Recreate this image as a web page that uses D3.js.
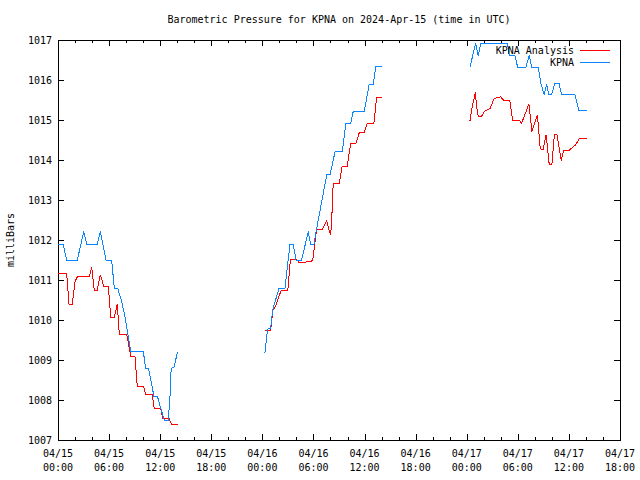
<!DOCTYPE html>
<html><head><meta charset="utf-8">
<script src="https://cdn.jsdelivr.net/npm/d3@7"></script>
<style>body{margin:0;background:#fff}svg{display:block}</style>
</head><body>
<script>
// ---- data (hours since 2024-04-15 00:00 UTC; null value = gap) ----
const startTime = Date.UTC(2024, 3, 15, 0, 0);
const spanHours = 66;
const yTicks = [1007,1008,1009,1010,1011,1012,1013,1014,1015,1016,1017];
const seriesNames = ["KPNA Analysis", "KPNA"];
const seriesColors = ["#ff0000", "#0a84ff"];

const analysisHours = [0,1.02,1.29,1.68,2.0,2.27,3.68,3.96,4.26,4.61,4.97,5.37,5.91,6.19,6.61,6.96,7.2,8.07,8.57,9.04,9.31,10.02,10.33,11.07,11.31,12.06,12.29,13.03,13.35,14.05,
  20,
  24.3,24.97,25.24,25.52,26.22,26.99,27.3,27.97,28.27,29.14,29.9,30.38,31.04,31.54,31.73,32.0,32.12,32.32,33.03,33.38,33.97,34.37,34.99,35.38,35.96,36.32,37.1,37.42,38.01,
  44,
  48.38,48.65,49.02,49.16,49.35,49.75,50.14,50.72,51.23,51.98,52.4,53.07,53.39,54.16,54.45,55.3,55.66,56.3,56.63,56.95,57.33,57.69,58.0,58.3,58.59,59.1,59.38,60.06,60.79,61.23,62.08];
const analysisValues = [1011.17,1011.17,1010.4,1010.4,1010.96,1011.08,1011.08,1011.32,1010.75,1010.75,1011.13,1010.85,1010.85,1010.06,1010.06,1010.39,1009.64,1009.64,1009.08,1009.08,1008.35,1008.35,1008.13,1008.13,1007.78,1007.78,1007.54,1007.54,1007.39,1007.39,
  null,
  1009.73,1009.73,1010.25,1010.33,1010.75,1010.75,1011.52,1011.52,1011.45,1011.45,1011.48,1012.27,1012.27,1012.48,1012.33,1012.13,1012.38,1013.42,1013.42,1013.85,1013.85,1014.42,1014.42,1014.68,1014.68,1014.92,1014.92,1015.57,1015.57,
  null,
  1014.98,1015.33,1015.69,1015.33,1015.1,1015.1,1015.23,1015.28,1015.54,1015.58,1015.48,1015.48,1015.0,1015.0,1014.92,1015.4,1014.71,1015.13,1014.29,1014.25,1014.63,1013.88,1013.88,1014.64,1014.64,1013.98,1014.25,1014.25,1014.38,1014.54,1014.54];

const kpnaHours = [0,0.59,1.02,2.27,3.02,3.37,4.61,4.97,5.64,6.3,6.61,7.0,7.43,7.87,8.25,8.54,10.02,10.3,10.63,11.27,11.68,12.06,12.5,12.95,13.15,13.29,13.66,14.03,
  20,
  24.3,24.58,24.7,24.97,25.21,25.95,26.65,27.24,27.63,27.95,28.61,29.39,29.67,30.06,30.38,31.56,31.95,32.54,33.38,33.81,34.37,34.67,35.96,36.55,37.02,37.33,38.01,
  44,
  48.38,49.05,49.35,49.67,52.78,52.99,53.66,53.98,54.95,55.34,55.62,56.4,56.71,57.1,57.38,57.65,57.97,58.36,58.83,59.14,60.7,61.17,62.08];
const kpnaValues = [1011.9,1011.9,1011.5,1011.5,1012.21,1011.9,1011.9,1012.21,1011.5,1011.5,1010.8,1010.8,1010.5,1010.08,1009.58,1009.21,1009.21,1008.79,1008.79,1008.09,1008.09,1007.79,1007.5,1007.5,1008.08,1008.79,1008.83,1009.21,
  null,
  1009.18,1009.73,1009.79,1009.79,1010.25,1010.79,1010.79,1011.89,1011.89,1011.5,1011.5,1012.21,1011.89,1011.89,1012.29,1013.63,1013.63,1014.21,1014.21,1014.92,1014.92,1015.21,1015.21,1015.9,1015.9,1016.33,1016.33,
  null,
  1016.32,1016.92,1016.61,1016.92,1016.92,1016.61,1016.61,1016.32,1016.32,1016.61,1016.32,1016.32,1015.92,1015.63,1015.9,1015.63,1015.63,1015.92,1015.92,1015.63,1015.63,1015.23,1015.23];

// ---- chart ----
const W = 640, H = 480;
const M = {left: 58, right: 620, top: 40, bottom: 440};
const FONT = "'DejaVu Sans Mono', 'Liberation Mono', monospace";
const FS = "10px";

const toDate = h => new Date(startTime + h * 3600e3);
const x = d3.scaleUtc().domain([toDate(0), toDate(spanHours)]).range([M.left, M.right]);
const y = d3.scaleLinear().domain([1007, 1017]).range([M.bottom, M.top]);

const svg = d3.select("body").append("svg").attr("width", W).attr("height", H)
  .style("font-family", FONT).style("font-size", FS);
svg.append("rect").attr("width", W).attr("height", H).attr("fill", "#fff");

const majorTicks = d3.utcHour.every(6).range(toDate(0), toDate(spanHours + 0.01));
const minorTicks = d3.utcHour.every(2).range(toDate(0), toDate(spanHours + 0.01))
  .filter(d => d.getUTCHours() % 6 !== 0);

function tickAxis(axisFn, scale, vals, size, tr) {
  const g = svg.append("g").attr("transform", tr)
    .call(axisFn(scale).tickValues(vals).tickSize(size).tickFormat(""));
  g.select(".domain").remove();
  g.selectAll("line").attr("stroke", "#000").attr("shape-rendering", "crispEdges");
  return g;
}
// bottom & top
tickAxis(d3.axisBottom, x, majorTicks, -6, `translate(0,${M.bottom})`);
tickAxis(d3.axisBottom, x, minorTicks, -3, `translate(0,${M.bottom})`);
tickAxis(d3.axisTop, x, majorTicks, -6, `translate(0,${M.top})`);
tickAxis(d3.axisTop, x, minorTicks, -3, `translate(0,${M.top})`);
// left & right
tickAxis(d3.axisLeft, y, yTicks, -6, `translate(${M.left},0)`);
tickAxis(d3.axisRight, y, yTicks, -6, `translate(${M.right},0)`);

// border
svg.append("rect").attr("x", M.left).attr("y", M.top)
  .attr("width", M.right - M.left).attr("height", M.bottom - M.top)
  .attr("fill", "none").attr("stroke", "#000").attr("shape-rendering", "crispEdges");

// y labels
svg.append("g").selectAll("text").data(yTicks).join("text")
  .attr("x", M.left - 6).attr("y", d => y(d) + 3.5)
  .attr("text-anchor", "end").text(d => d);

// x labels
const fmtD = d3.utcFormat("%m/%d"), fmtT = d3.utcFormat("%H:%M");
const xl = svg.append("g").selectAll("g").data(majorTicks).join("g");
xl.append("text").attr("x", d => x(d)).attr("y", 457).attr("text-anchor", "middle").text(fmtD);
xl.append("text").attr("x", d => x(d)).attr("y", 471).attr("text-anchor", "middle").text(fmtT);

// title & axis label
svg.append("text").attr("x", (M.left + M.right) / 2).attr("y", 23)
  .attr("text-anchor", "middle").text("Barometric Pressure for KPNA on 2024-Apr-15 (time in UTC)");
svg.append("text").attr("transform", "translate(14,240) rotate(-90)")
  .attr("text-anchor", "middle").text("milliBars");

// lines
const series = [
  {hours: analysisHours, values: analysisValues},
  {hours: kpnaHours, values: kpnaValues}
];
const line = d3.line().defined(d => d.v !== null).x(d => x(toDate(d.h))).y(d => y(d.v));
series.forEach((s, i) => {
  const pts = s.hours.map((h, j) => ({h, v: s.values[j]}));
  svg.append("path").datum(pts).attr("d", line)
    .attr("fill", "none").attr("stroke", seriesColors[i]).attr("stroke-width", 1)
    .attr("shape-rendering", "crispEdges");
});

// legend
seriesNames.forEach((name, i) => {
  const ly = 50 + i * 12.5;
  svg.append("text").attr("x", 574).attr("y", ly + 3.5).attr("text-anchor", "end").text(name);
  svg.append("line").attr("x1", 580).attr("x2", 610).attr("y1", ly).attr("y2", ly)
    .attr("stroke", seriesColors[i]).attr("shape-rendering", "crispEdges");
});
</script>
</body></html>
